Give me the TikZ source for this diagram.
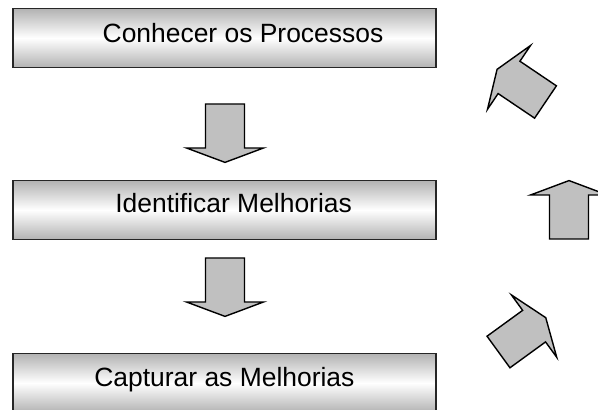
\documentclass[tikz,border=0pt]{standalone}
\usepackage{fontspec}
\setmainfont{Liberation Sans}
\usepackage{xcolor}
\usepackage{tikz}

\definecolor{arrowgray}{RGB}{192,192,192}
\definecolor{boxgray}{RGB}{178,178,178}

\tikzset{
  procbox/.style={draw=black!85, line width=1.1pt, minimum width=10.575cm,
    minimum height=1.48cm, top color=boxgray, bottom color=boxgray, middle color=white},
  proctext/.style={anchor=base, font=\fontsize{18.8}{22}\selectfont},
  pics/bigarrow/.style={code={
    \draw[fill=arrowgray, line width=1pt, line join=miter]
      (-0.4875,0) -- (-0.4875,1.1) -- (-0.9625,1.1) -- (0,1.46)
      -- (0.9625,1.1) -- (0.4875,1.1) -- (0.4875,0) -- cycle;
  }}
}

\begin{document}
\begin{tikzpicture}

\useasboundingbox (0,0) rectangle (14.95,10.25);
\clip (0,0) rectangle (14.95,10.25);

% the three steps
\node[procbox] (conhecer) at (5.6125,9.3) {};
\node[proctext] (tconhecer) at (6.075,9.175) {Conhecer os Processos};

\node[procbox] (identificar) at (5.6125,5.0) {};
\node[proctext] (tidentificar) at (5.84,4.925) {Identificar Melhorias};

\node[procbox] (capturar) at (5.6125,0.675) {};
\node[proctext] (tcapturar) at (5.61,0.575) {Capturar as Melhorias};

% arrows between the steps
\pic[rotate=180] at (5.625,7.65) {bigarrow};
\pic[rotate=180] at (5.625,3.8) {bigarrow};

% arrows going back up on the right
\pic[rotate=-54] at (12.4625,1.45) {bigarrow};
\pic at (14.225,4.275) {bigarrow};
\pic[rotate=56] at (13.6375,7.7) {bigarrow};

\end{tikzpicture}
\end{document}
